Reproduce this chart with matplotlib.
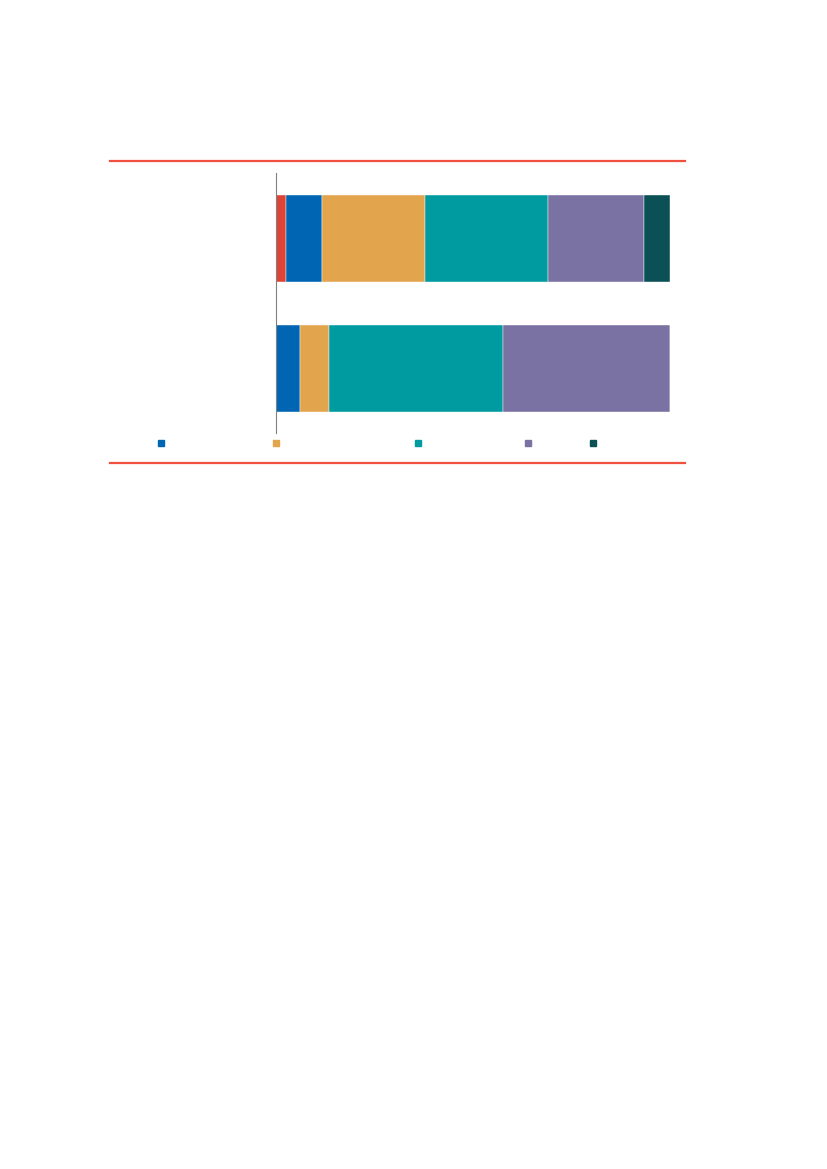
import matplotlib
matplotlib.use("Agg")
import matplotlib.pyplot as plt
from matplotlib.lines import Line2D
import numpy as np

# Data (percent shares)
categories = ["Row 1", "Row 2"]
series_colors = ["#DE4435", "#0066B3", "#E2A44C", "#009BA1", "#7A72A3", "#0A5055"]
values = [
    [2.5, 9.0, 26.1, 31.4, 24.3, 6.7],
    [0.0, 6.0, 7.3, 44.1, 42.6, 0.0],
]
legend_colors = ["#0066B3", "#E2A44C", "#009BA1", "#7A72A3", "#0A5055"]
legend_x_px = [161, 276, 418, 528, 593]

W, H = 827, 1169
fig = plt.figure(figsize=(W / 100, H / 100), dpi=100)

ax_left, ax_right = 276.4, 670.4
ax_top, ax_bot = 173.3, 433.3
ax = fig.add_axes([ax_left / W, 1 - ax_bot / H, (ax_right - ax_left) / W, (ax_bot - ax_top) / H])

vals = np.array(values)
ypos = np.arange(len(categories))
left = np.zeros(len(categories))
for j, c in enumerate(series_colors):
    w = vals[:, j]
    ax.barh(ypos, w, left=left, height=0.665, color=c, edgecolor="white", linewidth=0.3)
    left += w

ax.set_xlim(0, 100)
ax.set_ylim(1.5, -0.5)
for s in ["top", "right", "bottom"]:
    ax.spines[s].set_visible(False)
ax.spines["left"].set_color("#808080")
ax.spines["left"].set_linewidth(0.8)
ax.set_xticks([])
ax.set_yticks([])

# Red rules
for y in [160.7, 462.7]:
    fig.add_artist(Line2D([110 / W, 685 / W], [1 - y / H, 1 - y / H], color="#F04E3E", linewidth=1.6,
                          transform=fig.transFigure))

# Legend markers
for x, c in zip(legend_x_px, legend_colors):
    fig.add_artist(Line2D([x / W], [1 - 443.3 / H], marker="s", markersize=4.3, color=c, linestyle="none",
                          transform=fig.transFigure))

fig.savefig("out.png", dpi=100)
